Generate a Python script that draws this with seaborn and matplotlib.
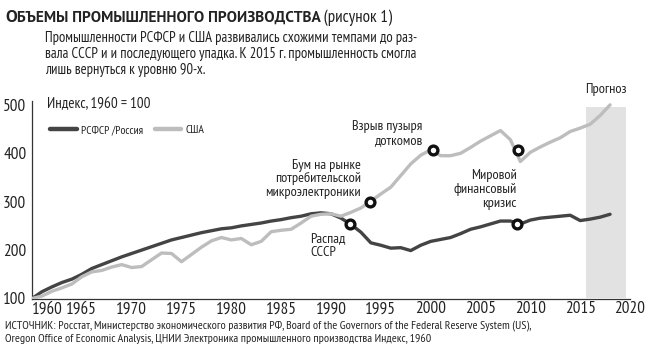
import matplotlib
matplotlib.use("Agg")
import matplotlib.pyplot as plt
import seaborn as sns
import pandas as pd
from matplotlib import font_manager
from matplotlib.offsetbox import TextArea, HPacker, AnchoredOffsetbox

# ---------------- data ----------------
years = list(range(1960, 2019))
russia = [100, 114, 124, 133, 140, 150, 162, 170, 178, 186,
          193, 200, 207, 214, 221, 226, 231, 236, 240, 244,
          246, 250, 253, 256, 260, 263, 267, 270, 275, 277,
          275, 266, 253, 237, 215, 210, 204, 205, 199, 210,
          218, 222, 226, 234, 243, 248, 254, 260, 260, 254,
          262, 266, 268, 270, 272, 261, 264, 268, 274]
usa = [100, 105, 115, 122, 130, 145, 155, 158, 165, 170,
       164, 166, 180, 194, 193, 176, 191, 206, 219, 226,
       221, 224, 211, 218, 238, 241, 243, 256, 270, 274,
       275, 270, 278, 287, 301, 316, 330, 354, 378, 396,
       407, 395, 395, 400, 412, 425, 436, 447, 428, 383,
       402, 413, 423, 432, 445, 452, 460, 478, 500]
series_names = ["РСФСР /Россия", "США"]

event_years = [1991.9, 1993.9, 2000.2, 2008.8, 2008.7]
event_values = [253, 300, 407, 407, 254]

forecast_span = [2015.6, 2019.6]
forecast_top = 495

xtick_years = [1960, 1965, 1970, 1975, 1980, 1985, 1990, 1995, 2000, 2005, 2010, 2015, 2020]
ytick_values = [100, 200, 300, 400, 500]

# ---------------- fonts ----------------
sns.set_theme(style="white")
names = {f.name for f in font_manager.fontManager.ttflist}
prefs = [("PT Sans Narrow", 1.0), ("Roboto Condensed", 0.93),
         ("Fira Sans Condensed", 0.9), ("IBM Plex Sans Condensed", 0.9),
         ("Open Sans Condensed", 0.95), ("Roboto", 0.8)]
FONT, K = next(((n, k) for n, k in prefs if n in names), ("DejaVu Sans", 0.72))
plt.rcParams["font.family"] = [FONT, "DejaVu Sans"]
if "PT Sans" in names and FONT == "PT Sans Narrow":
    TITLE_FAM, TK = ["PT Sans", "DejaVu Sans"], 1.0
else:
    TITLE_FAM, TK = [FONT, "DejaVu Sans"], 1.15 * K


def fs(x):
    return x * K


TXT = "#222222"
DARK = "#444444"
LIGHT = "#bdbdbd"

df = pd.DataFrame({
    "year": years * 2,
    "value": russia + usa,
    "series": [series_names[0]] * len(years) + [series_names[1]] * len(years),
})

fig = plt.figure(figsize=(6.5, 3.51), dpi=100)
ax = fig.add_axes([32 / 650, 1 - 298.5 / 351, 598 / 650, (298.5 - 101) / 351])

ax.fill_between(forecast_span, [100, 100], [forecast_top, forecast_top],
                color="#e2e2e2", lw=0, zorder=0)

sns.lineplot(data=df, x="year", y="value", hue="series",
             palette={series_names[0]: DARK, series_names[1]: LIGHT},
             hue_order=series_names, linewidth=2.4, ax=ax, zorder=3)

sns.scatterplot(x=event_years, y=event_values, ax=ax, s=40, color="white",
                edgecolor="#111111", linewidth=2.4, zorder=5, legend=False)

ax.set_xlim(1960, 2020)
ax.set_ylim(100, 508)
ax.set_xticks(xtick_years)
ax.set_xticklabels([str(y) for y in xtick_years])
ax.set_yticks(ytick_values)
ax.set_yticklabels([str(v) for v in ytick_values])
ax.get_xticklabels()[0].set_horizontalalignment("left")
ax.tick_params(axis="both", length=0, labelsize=fs(12.3), colors=TXT)
ax.tick_params(axis="x", pad=2)
ax.tick_params(axis="y", pad=4)
ax.set_xlabel("")
ax.set_ylabel("")
for s in ["top", "right"]:
    ax.spines[s].set_visible(False)
for s in ["left", "bottom"]:
    ax.spines[s].set_color("#333333")
    ax.spines[s].set_linewidth(0.9)

leg = ax.legend(loc="center left", bbox_to_anchor=(44 / 650, 1 - 130 / 351),
                bbox_transform=fig.transFigure, ncol=2, frameon=False,
                fontsize=fs(8.4), handlelength=2.3, handletextpad=0.35,
                columnspacing=1.0, borderpad=0)
for line in leg.get_lines():
    line.set_linewidth(3.2)
for t in leg.get_texts():
    t.set_color(TXT)

# annotations
ann = dict(fontsize=fs(10.3), color=TXT, va="center")
ax.text(1999.2, 441, "Взрыв пузыря\nдоткомов", ha="right", linespacing=1.15, **ann)
ax.text(1993.0, 347, "Бум на рынке\nпотребительской\nмикроэлектроники", ha="right",
        linespacing=1.05, **ann)
ax.text(1987.9, 210, "Распад\nСССР", ha="left", linespacing=1.1, **ann)
ax.text(2008.6, 326, "Мировой\nфинансовый\nкризис", ha="right", linespacing=1.1, **ann)
ax.text(sum(forecast_span) / 2, 531, "Прогноз", ha="center", va="center",
        fontsize=fs(10.3), color=TXT, clip_on=False)

fig.text(47 / 650, 1 - 104 / 351, "Индекс, 1960 = 100", fontsize=fs(10.8), color=TXT, va="center")

# title with small caps effect
t1 = TextArea("О", textprops=dict(fontsize=TK * 12.8, fontweight="bold", color=TXT, family=TITLE_FAM))
t2 = TextArea("БЪЕМЫ ПРОМЫШЛЕННОГО ПРОИЗВОДСТВА",
              textprops=dict(fontsize=TK * 11.1, fontweight="bold", color=TXT, family=TITLE_FAM))
t3 = TextArea(" (рисунок 1)", textprops=dict(fontsize=fs(12.3), color=TXT))
box = HPacker(children=[t1, t2, t3], align="baseline", pad=0, sep=0)
anch = AnchoredOffsetbox(loc="lower left", child=box, pad=0, borderpad=0, frameon=False,
                         bbox_to_anchor=(5 / 650, 1 - 26 / 351),
                         bbox_transform=fig.transFigure)
fig.add_artist(anch)

fig.text(45 / 650, 1 - 31 / 351,
         "Промышленности РСФСР и США развивались схожими темпами до раз-\n"
         "вала СССР и и последующего упадка. К 2015 г. промышленность смогла\n"
         "лишь вернуться к уровню 90-х.",
         fontsize=fs(10.5), color=TXT, va="top", linespacing=1.2)

fig.text(5 / 650, 1 - 320 / 351,
         "ИСТОЧНИК: Росстат, Министерство экономического развития РФ, Board of the Governors of the Federal Reserve System (US),\n"
         "Oregon Office of Economic Analysis, ЦНИИ Электроника промышленного производства Индекс, 1960",
         fontsize=fs(8.6), color=TXT, va="top", linespacing=1.3)

fig.savefig("out.png", dpi=100, facecolor="white")
